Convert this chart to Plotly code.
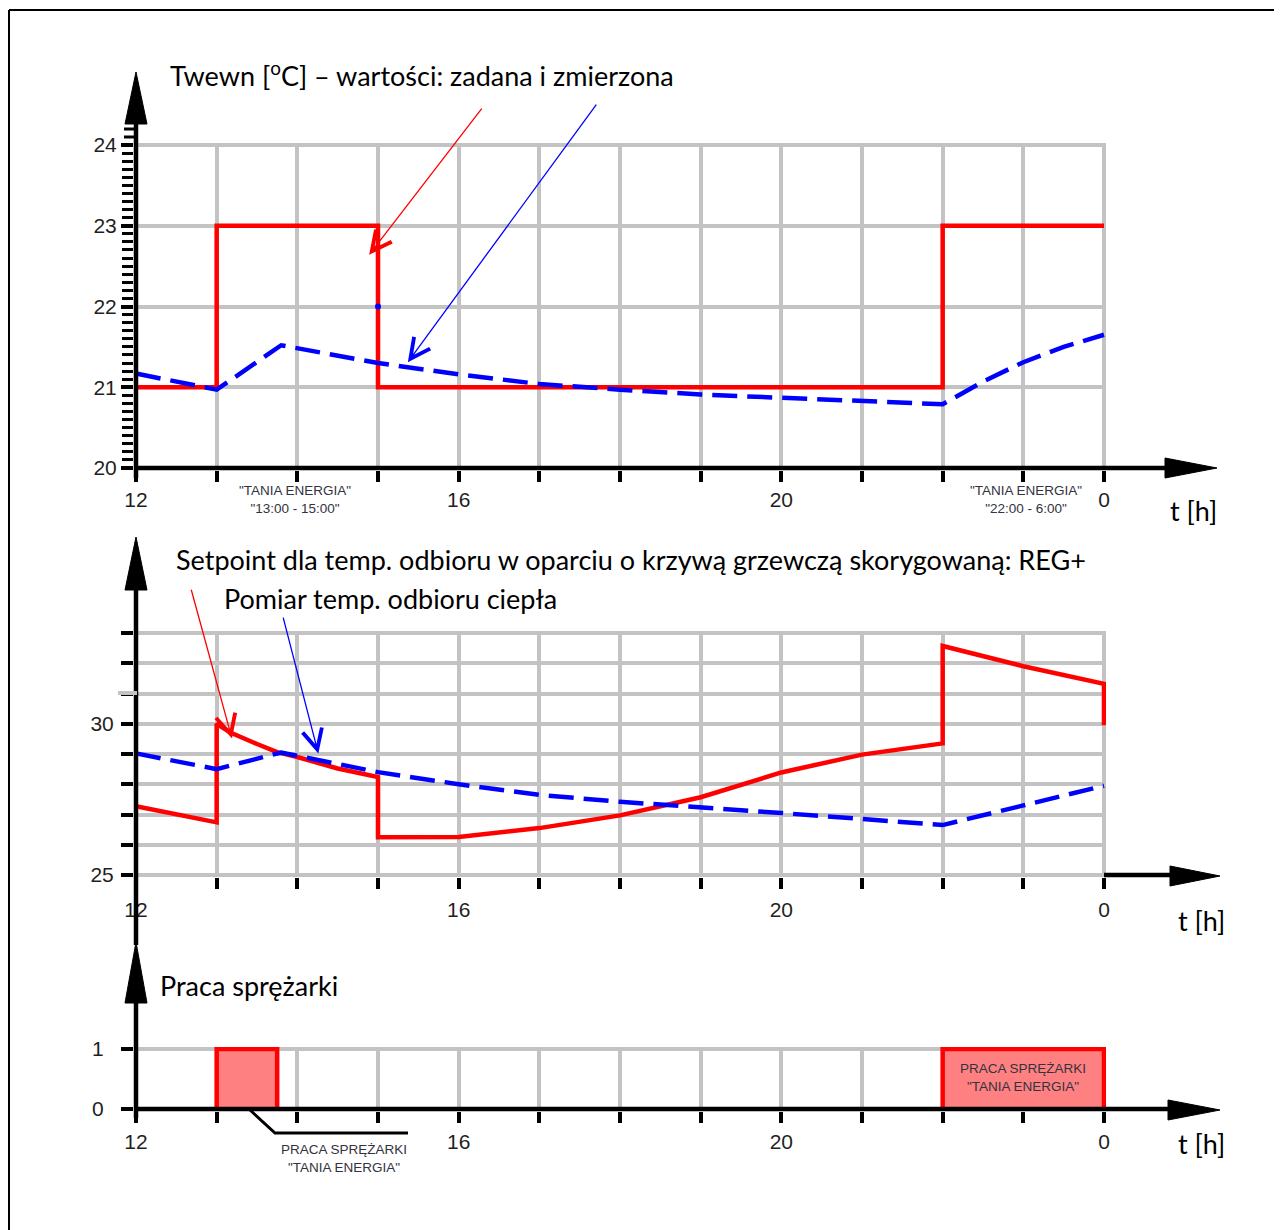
import plotly.graph_objects as go

W, H = 1282, 1230
OX, OY = 8, 8  # page margin of the browser body

# ---- data (hours 12..24, 24 shown as "0") ----
hour_ticks = [12, 13, 14, 15, 16, 17, 18, 19, 20, 21, 22, 23, 24]
hour_labels_at = [12, 16, 20, 24]
hour_labels = ["12", "16", "20", "0"]

# panel 1: room temperature, setpoint and measured
room_sp_t = [12, 13, 15, 22, 24]
room_sp = [21, 23, 21, 23, 23]
room_meas_t = [12, 13, 13.8, 15, 16, 17, 18, 19, 20, 21, 22, 22.5, 23, 23.5, 24]
room_meas = [21.17, 20.97, 21.52, 21.3, 21.16, 21.04, 20.97, 20.91, 20.87, 20.83,
             20.79, 21.07, 21.31, 21.5, 21.65]
room_dot_t = [15]
room_dot = [22]

# panel 2: supply temperature, setpoint (REG+) and measured
sup_sp_t = [12, 13, 13, 13.17, 13.5, 13.75, 14, 14.5, 15, 15, 16, 16.5, 17, 18, 19,
            20, 21, 22, 22, 23, 24, 24]
sup_sp = [27.27, 26.74, 30.0, 29.71, 29.33, 29.06, 28.9, 28.52, 28.24, 26.25, 26.26,
          26.42, 26.55, 26.97, 27.57, 28.39, 28.98, 29.35, 32.57, 31.9, 31.32, 29.95]
sup_meas_t = [12, 13, 13.8, 15, 16, 16.5, 17, 18, 19, 20, 21, 22, 23, 24]
sup_meas = [29.02, 28.5, 29.05, 28.4, 28.0, 27.82, 27.65, 27.42, 27.25, 27.05, 26.85,
            26.65, 27.3, 27.95]

# panel 3: compressor on/off intervals
comp_start = [13, 22]
comp_end = [13.75, 24]


# ---- pixel helpers for layout ----
def px(x):
    return (x - OX) / W


def py(y):
    return 1 - (y - OY) / H


PAD = 2
X0, X1 = 136, 1104
ppx = (X1 - X0) / 12
x_dom = [px(X0 - PAD), px(X1 + PAD)]
x_rng = [12 - PAD / ppx, 24 + PAD / ppx]


def ydom(top, bot):
    return [py(bot + PAD), py(top - PAD)]


def yrng(vmin, vmax, top, bot):
    per = (bot - top) / (vmax - vmin)
    return [vmin - PAD / per, vmax + PAD / per]


GRID = "#c3c3c3"
RED = "#ff0000"
BLUE = "#0000ff"
TICKFONT = dict(family="Liberation Sans, Arial", size=21, color="#1f1f1f")
BIGFONT = dict(family="Lato, Open Sans", size=27, color="black")
SMALLFONT = dict(family="Liberation Sans, Arial", size=13.5, color="#333340")

fig = go.Figure()

# panel 1
fig.add_trace(go.Scatter(x=room_sp_t, y=room_sp, mode="lines", line_shape="hv",
                         line=dict(color=RED, width=4.5), xaxis="x", yaxis="y"))
fig.add_trace(go.Scatter(x=room_meas_t, y=room_meas, mode="lines",
                         line=dict(color=BLUE, width=4.5, dash="25px,10px"),
                         xaxis="x", yaxis="y"))
fig.add_trace(go.Scatter(x=room_dot_t, y=room_dot, mode="markers",
                         marker=dict(color=BLUE, size=6), xaxis="x", yaxis="y"))

# panel 2
fig.add_trace(go.Scatter(x=sup_sp_t, y=sup_sp, mode="lines",
                         line=dict(color=RED, width=4.5), xaxis="x2", yaxis="y2"))
fig.add_trace(go.Scatter(x=sup_meas_t, y=sup_meas, mode="lines",
                         line=dict(color=BLUE, width=4.5, dash="25px,10px"),
                         xaxis="x2", yaxis="y2"))

# panel 3
bx, by = [], []
for s, e in zip(comp_start, comp_end):
    bx += [s, s, e, e, None]
    by += [0, 1, 1, 0, None]
fig.add_trace(go.Scatter(x=bx, y=by, mode="lines", fill="toself", fillcolor="#ff8080",
                         line=dict(color=RED, width=4.5), xaxis="x3", yaxis="y3"))


def xaxis_cfg(anchor, standoff):
    return dict(
        domain=x_dom, range=x_rng, anchor=anchor, showline=False, zeroline=False,
        automargin=False,
        tickmode="array", tickvals=hour_labels_at, ticktext=hour_labels,
        ticks="outside", ticklen=11, tickwidth=4, tickcolor="black",
        showgrid=True, gridcolor=GRID, gridwidth=4, tickfont=TICKFONT,
        ticklabelstandoff=standoff,
        minor=dict(tickmode="array", tickvals=hour_ticks, ticks="outside", ticklen=11,
                   tickwidth=4, tickcolor="black", showgrid=True, gridcolor=GRID,
                   gridwidth=4),
    )


fig.update_layout(
    width=W, height=H, margin=dict(l=0, r=0, t=0, b=0, autoexpand=False),
    paper_bgcolor="white", plot_bgcolor="white", showlegend=False,
    xaxis=xaxis_cfg("y", 0), xaxis2=xaxis_cfg("y2", 3), xaxis3=xaxis_cfg("y3", 1),
    yaxis=dict(
        domain=ydom(145, 468), range=yrng(20, 24, 145, 468), anchor="x",
        showline=False, zeroline=False, automargin=False, tickvals=[20, 21, 22, 23, 24],
        ticks="outside", ticklen=12, tickwidth=4, tickcolor="black",
        showgrid=True, gridcolor=GRID, gridwidth=4, tickfont=TICKFONT,
        ticklabelstandoff=0,
        minor=dict(tickmode="array", tickvals=[round(20 + i * 0.1, 1) for i in range(41)],
                   ticks="outside", ticklen=11, tickwidth=3, tickcolor="black",
                   showgrid=False),
    ),
    yaxis2=dict(
        domain=ydom(633, 875), range=yrng(25, 33, 633, 875), anchor="x2",
        showline=False, zeroline=False, automargin=False, tickvals=[25, 30],
        ticks="outside", ticklen=12, tickwidth=4, tickcolor="black",
        showgrid=True, gridcolor=GRID, gridwidth=4, tickfont=TICKFONT,
        ticklabelstandoff=3,
        minor=dict(tickmode="array", tickvals=[26, 27, 28, 29, 31, 32, 33],
                   ticks="outside", ticklen=12, tickwidth=4, tickcolor="black",
                   showgrid=True, gridcolor=GRID, gridwidth=4),
    ),
    yaxis3=dict(
        domain=ydom(1049, 1109), range=yrng(0, 1, 1049, 1109), anchor="x3",
        showline=False, zeroline=False, automargin=False, tickvals=[0, 1],
        ticks="outside", ticklen=12, tickwidth=4, tickcolor="black",
        showgrid=True, gridcolor=GRID, gridwidth=4, tickfont=TICKFONT,
        ticklabelstandoff=13,
    ),
)


# ---- axis lines, arrows, frame ----
def seg(x0, y0, x1, y1, color="black", width=4.5):
    return dict(type="line", xref="paper", yref="paper", x0=px(x0), y0=py(y0),
                x1=px(x1), y1=py(y1), line=dict(color=color, width=width))


def up_arrow(x, tip, base, hw=11):
    return dict(type="path", xref="paper", yref="paper", fillcolor="black",
                line=dict(color="black", width=1),
                path=f"M{px(x - hw)},{py(base)} L{px(x)},{py(tip)} L{px(x + hw)},{py(base)} Z")


def right_arrow(y, base, tip, hh=10):
    return dict(type="path", xref="paper", yref="paper", fillcolor="black",
                line=dict(color="black", width=1),
                path=f"M{px(base)},{py(y - hh)} L{px(tip)},{py(y)} L{px(base)},{py(y + hh)} Z")


shapes = [
    seg(9, 10, 1290, 10, width=2), seg(9, 10, 9, 1240, width=2),
    # panel 1
    seg(136, 478, 136, 115), up_arrow(136, 72, 124),
    seg(134, 468, 1175, 468), right_arrow(468, 1165, 1217),
    seg(124, 137, 136, 137, width=3), seg(124, 129, 136, 129, width=3),
    # panel 2
    seg(136, 945, 136, 580), up_arrow(136, 537, 590),
    seg(1104, 875, 1178, 875), right_arrow(876, 1170, 1220),
    seg(118, 693, 137, 693, color=GRID, width=4),
    # panel 3
    seg(136, 1118, 136, 995), up_arrow(136, 942, 1003),
    seg(134, 1109, 1178, 1109), right_arrow(1110, 1168, 1220),
    dict(type="path", xref="paper", yref="paper", line=dict(color="black", width=3),
         path=f"M{px(250)},{py(1110)} L{px(275)},{py(1133)} L{px(408)},{py(1133)}"),
]
fig.update_layout(shapes=shapes)


# ---- texts ----
def txt(x, y, text, font, xanchor="left"):
    return dict(x=px(x), y=py(y), xref="paper", yref="paper", text=text, showarrow=False,
                font=font, xanchor=xanchor, yanchor="middle", align="center")


def pointer(x, y, ax, ay, xa, ya, color):
    return dict(x=x, y=y, ax=ax, ay=ay, xref=xa, yref=ya, axref=xa, ayref=ya, text="",
                showarrow=True, arrowhead=5, arrowsize=3, arrowwidth=1.3, arrowcolor=color)


annotations = [
    txt(168, 74, "Twewn [<sup>o</sup>C] – wartości: zadana i zmierzona", BIGFONT),
    txt(174, 559, "Setpoint dla temp. odbioru w oparciu o krzywą grzewczą skorygowaną: REG+", BIGFONT),
    txt(222, 598, "Pomiar temp. odbioru ciepła", BIGFONT),
    txt(158, 985, "Praca sprężarki", BIGFONT),
    txt(1168, 510, "t [h]", BIGFONT), txt(1176, 920, "t [h]", BIGFONT),
    txt(1176, 1143, "t [h]", BIGFONT),
    txt(295, 499, "\"TANIA ENERGIA\"<br>\"13:00 - 15:00\"", SMALLFONT, "center"),
    txt(1026, 499, "\"TANIA ENERGIA\"<br>\"22:00 - 6:00\"", SMALLFONT, "center"),
    txt(344, 1158, "PRACA SPRĘŻARKI<br>\"TANIA ENERGIA\"", SMALLFONT, "center"),
    dict(x=23, y=0.52, xref="x3", yref="y3", text="PRACA SPRĘŻARKI<br>\"TANIA ENERGIA\"",
         showarrow=False, font=SMALLFONT),
    pointer(14.89, 22.64, 16.30, 24.47, "x", "y", RED),
    pointer(15.37, 21.31, 17.72, 24.52, "x", "y", BLUE),
    pointer(13.19, 29.51, 12.68, 34.48, "x2", "y2", RED),
    pointer(14.26, 29.02, 13.82, 33.56, "x2", "y2", BLUE),
]
fig.update_layout(annotations=annotations)

fig.write_html("out.html")
